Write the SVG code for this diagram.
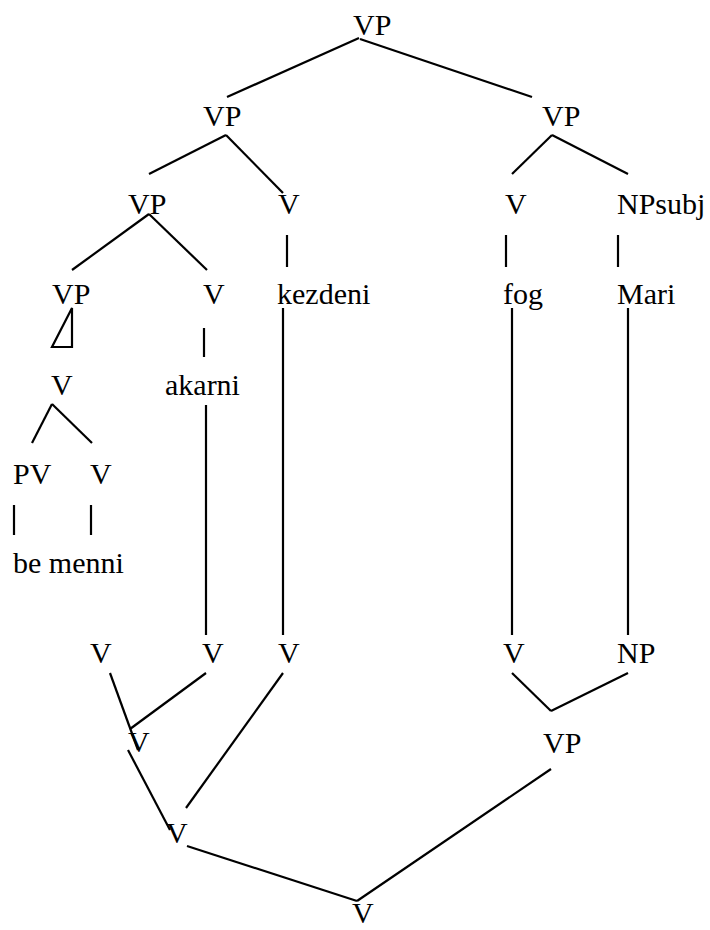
<svg xmlns="http://www.w3.org/2000/svg" width="710" height="930" viewBox="0 0 710 930">
<style>
.t text{font-family:'Liberation Serif','Times New Roman',Times,'DejaVu Serif',serif;font-size:30px;fill:#000}
.e{stroke:#000;stroke-width:2.2;fill:none;stroke-linecap:butt}
</style>
<rect width="710" height="930" fill="#fff"/>
<g id="connectors" class="e">
<line x1="359" y1="38" x2="227" y2="97"/>
<line x1="360" y1="39" x2="532" y2="97"/>
<line x1="226" y1="135" x2="149" y2="174"/>
<line x1="226" y1="135" x2="283" y2="193"/>
<line x1="552" y1="135" x2="512" y2="174"/>
<line x1="552" y1="135" x2="628" y2="174"/>
<line x1="149" y1="214" x2="72" y2="270"/>
<line x1="149" y1="214" x2="207" y2="270"/>
<line x1="287" y1="235" x2="287" y2="267"/>
<line x1="506" y1="235" x2="506" y2="267"/>
<line x1="618" y1="235" x2="618" y2="267"/>
<polygon points="72,308 52,347 72,347"/>
<line x1="204" y1="328" x2="204" y2="357"/>
<line x1="283" y1="308" x2="283" y2="635"/>
<line x1="206" y1="405" x2="206" y2="635"/>
<line x1="512" y1="308" x2="512" y2="635"/>
<line x1="628" y1="308" x2="628" y2="635"/>
<line x1="52" y1="404" x2="32" y2="443"/>
<line x1="52" y1="404" x2="92" y2="443"/>
<line x1="14" y1="505" x2="14" y2="535"/>
<line x1="91" y1="505" x2="91" y2="535"/>
<line x1="110" y1="673" x2="138" y2="750"/>
<line x1="206" y1="673" x2="130" y2="729"/>
<line x1="128" y1="750" x2="170" y2="830"/>
<line x1="283" y1="673" x2="186" y2="808"/>
<line x1="187" y1="846" x2="357" y2="901"/>
<line x1="551" y1="769" x2="357" y2="901"/>
<line x1="512" y1="673" x2="551" y2="711"/>
<line x1="628" y1="673" x2="551" y2="711"/>
</g>
<g class="t" font-family="Liberation Serif, serif" font-size="30">
<g id="n-vp-top"><text x="353" y="35">VP</text></g>
<g id="n-vp-l"><text x="203" y="126">VP</text></g>
<g id="n-vp-r"><text x="542" y="126">VP</text></g>
<g id="n-vp-ll"><text x="128" y="214">VP</text></g>
<g id="n-v-kezd"><text x="278" y="214">V</text></g>
<g id="n-v-fog"><text x="505" y="214">V</text></g>
<g id="n-npsubj"><text x="617" y="214">NPsubj</text></g>
<g id="n-vp-lll"><text x="52" y="304">VP</text></g>
<g id="n-v-akar"><text x="203" y="304">V</text></g>
<g id="n-kezdeni"><text x="277" y="304">kezdeni</text></g>
<g id="n-fog"><text x="503" y="304">fog</text></g>
<g id="n-mari"><text x="617" y="304">Mari</text></g>
<g id="n-v-bemenni"><text x="51" y="395">V</text></g>
<g id="n-akarni"><text x="165" y="395">akarni</text></g>
<g id="n-pv"><text x="13" y="484">PV</text></g>
<g id="n-v-menni"><text x="90" y="484">V</text></g>
<g id="n-be-menni"><text x="13" y="573">be menni</text></g>
<g id="n-v-b1"><text x="90" y="663">V</text></g>
<g id="n-v-b2"><text x="202" y="663">V</text></g>
<g id="n-v-b3"><text x="278" y="663">V</text></g>
<g id="n-v-b4"><text x="503" y="663">V</text></g>
<g id="n-np"><text x="617" y="663">NP</text></g>
<g id="n-v-c1"><text x="128" y="752">V</text></g>
<g id="n-vp-c2"><text x="543" y="753">VP</text></g>
<g id="n-v-d1"><text x="166" y="843">V</text></g>
<g id="n-v-root"><text x="352" y="923">V</text></g>
</g>
</svg>
